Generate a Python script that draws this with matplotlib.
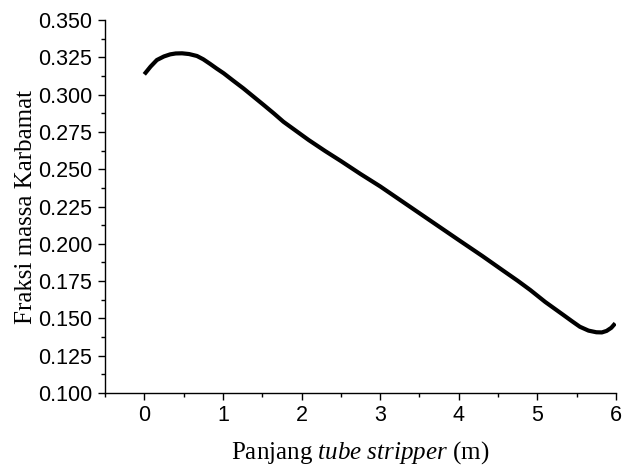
import matplotlib
matplotlib.use("Agg")
import matplotlib.pyplot as plt
from matplotlib.ticker import MultipleLocator, FormatStrFormatter

plt.rcParams["mathtext.fontset"] = "custom"
plt.rcParams["mathtext.it"] = "Liberation Serif:italic"
plt.rcParams["mathtext.rm"] = "Liberation Serif"

x_len = [0.0, 0.08, 0.16, 0.25, 0.33, 0.40, 0.48, 0.57, 0.67, 0.75, 0.84, 0.92, 1.01, 1.13, 1.26, 1.39,
         1.52, 1.65, 1.77, 1.93, 2.09, 2.3, 2.5, 2.75, 3.0, 3.25, 3.5, 3.75, 4.0, 4.3, 4.57, 4.75, 4.91,
         5.1, 5.33, 5.44, 5.54, 5.65, 5.75, 5.82, 5.88, 5.94, 5.99]
y_karbamat = [0.3136, 0.3188, 0.3232, 0.3256, 0.327, 0.3276, 0.3277, 0.3272, 0.3259, 0.3237, 0.3205,
              0.3175, 0.3143, 0.3094, 0.3042, 0.2986, 0.293, 0.2873, 0.2818, 0.2757, 0.2696, 0.2622,
              0.2555, 0.2468, 0.2385, 0.2295, 0.2205, 0.2115, 0.2025, 0.1918, 0.1818, 0.1752, 0.169,
              0.161, 0.1523, 0.1481, 0.1444, 0.1418, 0.1407, 0.1406, 0.1416, 0.1437, 0.1467]

fig = plt.figure(figsize=(6.23, 4.66), dpi=100)
ax = fig.add_axes([0.1685, 0.1567, 0.8203, 0.8003])
ax.plot(x_len, y_karbamat, color="black", lw=3.0, solid_capstyle="butt", solid_joinstyle="round")

ax.set_xlim(-0.5, 6)
ax.set_ylim(0.100, 0.350)
ax.xaxis.set_major_locator(MultipleLocator(1))
ax.xaxis.set_minor_locator(MultipleLocator(0.5))
ax.yaxis.set_major_locator(MultipleLocator(0.025))
ax.yaxis.set_minor_locator(MultipleLocator(0.0125))
ax.yaxis.set_major_formatter(FormatStrFormatter("%.3f"))
for s in ["top", "right"]:
    ax.spines[s].set_visible(False)
for s in ["left", "bottom"]:
    ax.spines[s].set_linewidth(1.0)
ax.tick_params(which="major", direction="out", length=5, width=1.0, labelsize=15.5, pad=4)
ax.tick_params(which="minor", direction="out", length=3, width=1.0)
for lab in ax.get_xticklabels() + ax.get_yticklabels():
    lab.set_fontfamily("Liberation Sans")

ax.set_xlabel("Panjang $\\it{tube\\ stripper}$ (m)", fontsize=18, fontfamily="Liberation Serif", labelpad=9)
ax.set_ylabel("Fraksi massa Karbamat", fontsize=18, fontfamily="Liberation Serif", labelpad=1)

fig.savefig("out.png", dpi=100)
